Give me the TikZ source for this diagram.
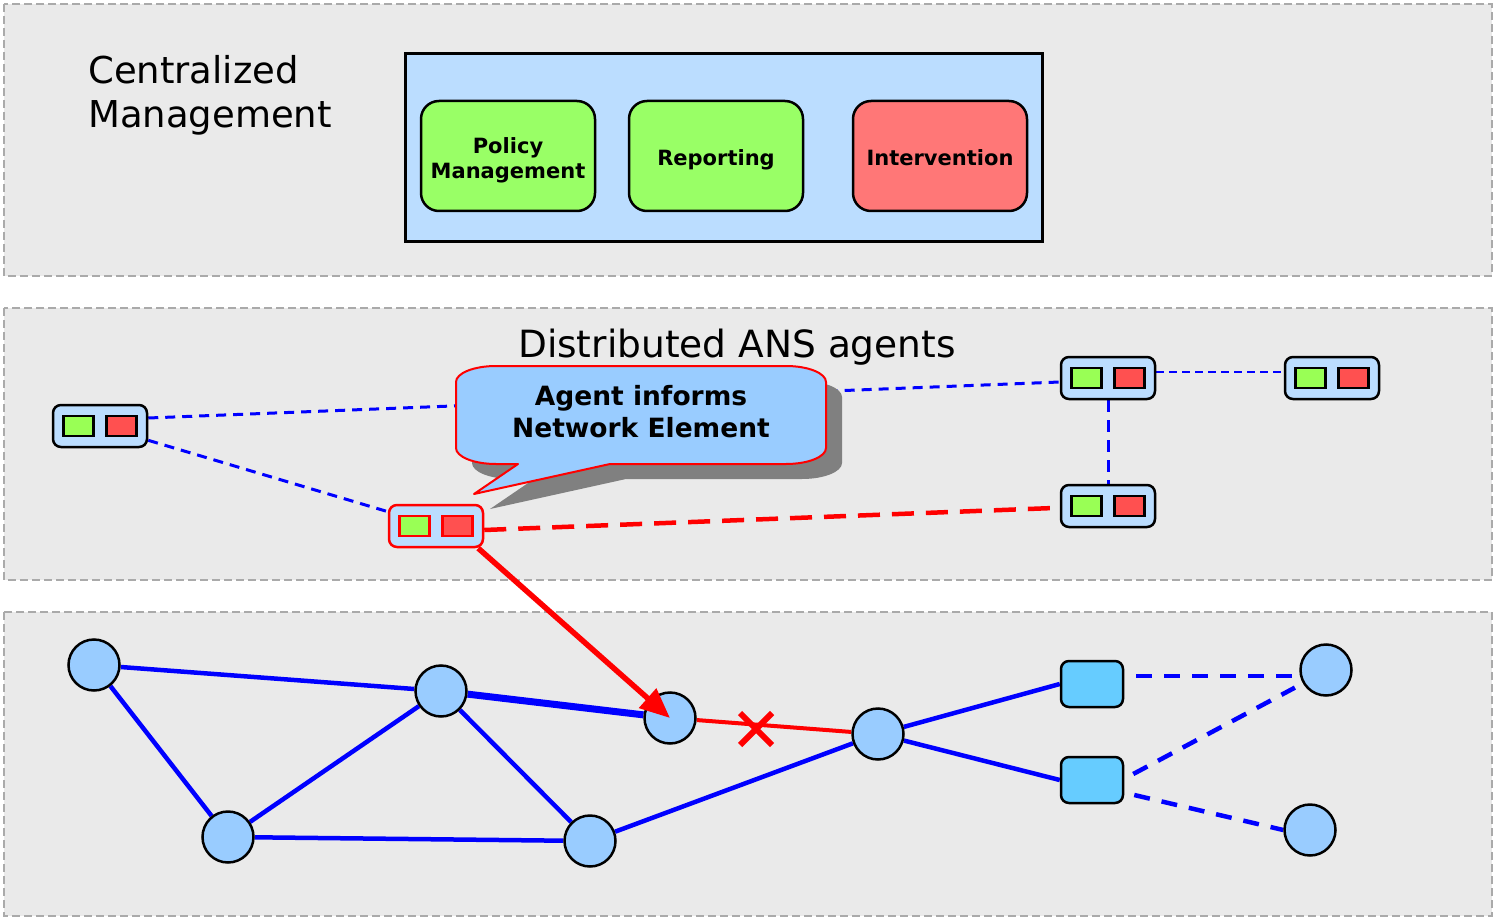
\documentclass[tikz,border=0pt]{standalone}
\usepackage{fontspec}
\setmainfont{DejaVu Sans}
\usetikzlibrary{arrows.meta,backgrounds}

\definecolor{panelfill}{HTML}{EAEAEA}
\definecolor{panelline}{HTML}{AAAAAA}
\definecolor{agentblue}{HTML}{BBDDFF}
\definecolor{taskgreen}{HTML}{99FF66}
\definecolor{taskred}{HTML}{FF7777}
\definecolor{ledgreen}{HTML}{99FF55}
\definecolor{ledred}{HTML}{FF5050}
\definecolor{bubbleblue}{HTML}{99CCFF}
\definecolor{nodeblue}{HTML}{99CCFF}
\definecolor{switchblue}{HTML}{66CCFF}
\definecolor{netblue}{HTML}{0000FF}
\definecolor{shadowgray}{HTML}{808080}

% keeps the task labels at the same height in every box
\newcommand{\taskstrut}{\rule[-6pt]{0pt}{31pt}}

\begin{document}
\begin{tikzpicture}[x=1pt, y=-1pt,
        panel/.style = {draw=panelline, fill=panelfill, line width=2pt, dash pattern=on 8pt off 4pt},
        task/.style = {draw, rounded corners=18pt, line width=2.5pt, minimum width=174pt, minimum height=110pt, align=center, font=\fontsize{21}{25}\selectfont\bfseries},
        agent/.style = {draw, fill=agentblue, rounded corners=8pt, line width=2.5pt, minimum width=94pt, minimum height=42pt, inner sep=0pt},
        led/.style = {draw, line width=2.5pt, minimum width=30pt, minimum height=20pt, inner sep=0pt},
        router/.style = {draw, circle, fill=nodeblue, line width=2.5pt, minimum size=51pt, inner sep=0pt},
        switch/.style = {draw, fill=switchblue, rounded corners=8pt, line width=2.5pt, minimum width=62pt, minimum height=46pt, inner sep=0pt},
        link/.style = {draw=netblue, line width=4.5pt},
        trunk/.style = {draw=netblue, line width=4.5pt, dash pattern=on 16pt off 12pt},
        peer/.style = {draw=netblue, line width=3pt, dash pattern=on 10pt off 7pt},
        calloutshade/.style = {fill=shadowgray},
        calloutbody/.style = {fill=bubbleblue, draw=red, line width=2pt, line join=round}]
        \useasboundingbox (0,0) rectangle (1493,917);

        % management layer
        \node[anchor=north west, inner sep=0pt, align=left, font=\fontsize{37}{44}\selectfont] (central) at (88,55) {Centralized\\Management};
        \node[draw, fill=agentblue, line width=3pt, minimum width=637pt, minimum height=188pt] (mgmt) at (724,147.5) {};
        \node[task, fill=taskgreen] (policy) at (508,156) {\taskstrut Policy\\Management};
        \node[task, fill=taskgreen] (report) at (716,156) {\taskstrut Reporting};
        \node[task, fill=taskred] (interv) at (940,156) {\taskstrut Intervention};

        % agent layer
        \node[anchor=base, inner sep=0pt, font=\fontsize{37.5}{44}\selectfont] (distrib) at (737,357) {Distributed ANS agents};
        \node[agent] (a1) at (100,426) {};
        \node[agent, draw=red] (ra) at (436,526) {};
        \node[agent] (a3) at (1108,378) {};
        \node[agent] (a4) at (1332,378) {};
        \node[agent] (a5) at (1108,506) {};
        \foreach \a/\c in {a1/black, ra/red, a3/black, a4/black, a5/black} {
            \node[led, draw=\c, fill=ledgreen] at ([xshift=-21.5pt]\a.center) {};
            \node[led, draw=\c, fill=ledred] at ([xshift=21.5pt]\a.center) {};
        }

        % network layer
        \node[router] (n1) at (94,665) {};
        \node[router] (n2) at (228,837) {};
        \node[router] (n3) at (441,691) {};
        \node[router] (n4) at (590,841) {};
        \node[router] (n5) at (670,718) {};
        \node[router] (n6) at (878,734) {};
        \node[router] (n7) at (1326,670) {};
        \node[router] (n8) at (1310,830) {};
        \node[switch] (s1) at (1092,684) {};
        \node[switch] (s2) at (1092,780) {};
        \coordinate (cut) at (756,729);

        \begin{scope}[on background layer]
                \draw[panel] (4,4) rectangle (1492,276);
                \draw[panel] (4,308) rectangle (1492,580);
                \draw[panel] (4,612) rectangle (1492,916);

                \draw[peer] ([yshift=8pt]a1.east) -- ([yshift=-4pt]a3.west);
                \draw[peer] (a1) -- (ra);
                \draw[peer, line width=2.5pt, dash pattern=on 8pt off 5pt] ([yshift=6pt]a3.east) -- ([yshift=6pt]a4.west);
                \draw[peer, dash pattern=on 12pt off 8pt] (a3) -- (a5);
                \draw[red, line width=4.5pt, dash pattern=on 22pt off 12pt] ([yshift=-4pt]ra.east) -- ([xshift=-6pt,yshift=-2pt]a5.west);

                \draw[link] (n1) -- (n3);
                \draw[link] (n1) -- (n2);
                \draw[link] (n2) -- (n3);
                \draw[link] (n2) -- (n4);
                \draw[link] (n3) -- (n4);
                \draw[link, line width=7pt] (n3) -- (n5);
                \draw[link] (n4) -- (n6);
                \draw[link] (n6) -- (s1.west);
                \draw[link] (n6) -- (s2.west);
                \draw[red, line width=4pt] (n5) -- (n6);
                \draw[trunk] ([xshift=12pt,yshift=8pt]s1.east) -- ([xshift=-7pt,yshift=-6pt]n7.west);
                \draw[trunk, shorten >=9pt] ([xshift=9pt,yshift=6pt]s2.east) -- (n7.210);
                \draw[trunk] ([xshift=10pt,yshift=-15pt]s2.east) -- (n8.west);
        \end{scope}

        \draw[red, line width=5.5pt, -{Triangle[length=30pt,width=25pt]}] ([xshift=-6pt]ra.south east) -- (n5.center);
        \draw[red, line width=6pt] (cut) ++(-16,-16) -- ++(32,32) (cut) ++(16,-16) -- ++(-32,32);

        % speech bubble and its shadow
        \foreach \dx/\dy/\look in {16/15/calloutshade, 0/0/calloutbody} {
            \path[\look, shift={(\dx,\dy)}] (456,382) arc[start angle=180, end angle=90, x radius=40pt, y radius=16pt]
                -- (786,366) arc[start angle=90, end angle=0, x radius=40pt, y radius=16pt]
                -- (826,448) arc[start angle=0, end angle=-90, x radius=40pt, y radius=16pt]
                -- (610,464) -- (474,494) -- (518,464)
                -- (496,464) arc[start angle=270, end angle=180, x radius=40pt, y radius=16pt] -- cycle;
        }
        \node[align=center, font=\fontsize{26.5}{32}\selectfont\bfseries] (note) at (641,412) {Agent informs\\Network Element};
\end{tikzpicture}
\end{document}
